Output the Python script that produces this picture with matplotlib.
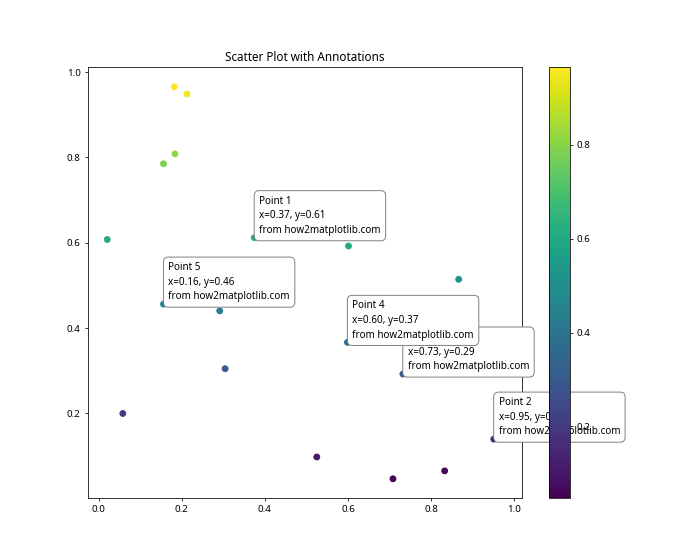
import matplotlib
matplotlib.use('Agg')
import matplotlib.pyplot as plt

plt.rcParams['font.family'] = ['Noto Sans', 'DejaVu Sans']

x = [0.37454012, 0.95071431, 0.73199394, 0.59865848, 0.15601864,
     0.15599452, 0.05808361, 0.86617615, 0.60111501, 0.70807258,
     0.02058449, 0.96990985, 0.83244264, 0.21233911, 0.18182497,
     0.18340451, 0.30424224, 0.52475643, 0.43194502, 0.29122914]
y = [0.61185289, 0.13949386, 0.29214465, 0.36636184, 0.45606998,
     0.78517596, 0.19967378, 0.51423444, 0.59241457, 0.04645041,
     0.60754485, 0.17052412, 0.06505159, 0.94888554, 0.96563203,
     0.80839735, 0.30461377, 0.09767211, 0.68423303, 0.44015249]
n_annot = 5

fig, ax = plt.subplots(figsize=(10, 8), dpi=70)
sc = ax.scatter(x, y, c=y, cmap='viridis')
fig.colorbar(sc)

for i in range(n_annot):
	ax.annotate('Point %d\nx=%.2f, y=%.2f\nfrom how2matplotlib.com' % (i + 1, x[i], y[i]),
	            (x[i], y[i]), xytext=(5, 5), textcoords='offset points',
	            fontsize=10.2, linespacing=1.45,
	            bbox=dict(boxstyle='round,pad=0.5', fc='white', ec='gray'))

ax.set_title('Scatter Plot with Annotations')
fig.savefig('out.png')
